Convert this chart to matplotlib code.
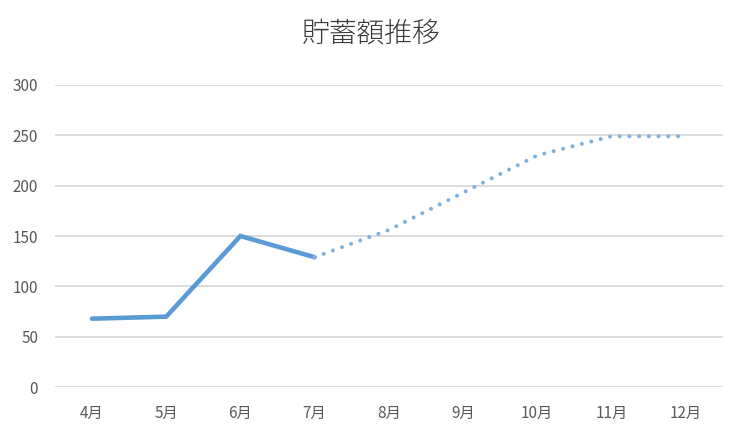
import matplotlib
matplotlib.use("Agg")
import matplotlib.pyplot as plt

plt.rcParams['font.family'] = ['Noto Sans CJK JP', 'DejaVu Sans']

months = ["4月", "5月", "6月", "7月", "8月", "9月", "10月", "11月", "12月"]
actual = [68, 70, 150, 129]
forecast = [129, 156, 193, 230, 249, 249]

fig = plt.figure(figsize=(7.42, 4.42), dpi=100)
ax = fig.add_axes([0.074, 0.124, 0.9, 0.684])

x_all = list(range(len(months)))
ax.plot(x_all[:len(actual)], actual, color="#5B9BD5", lw=3.3,
        solid_capstyle="round", solid_joinstyle="miter", zorder=3)
start = len(actual) - 1
ax.plot(x_all[start:start + len(forecast)], forecast, color="#7EB0E0", lw=2.9,
        linestyle=(0, (0.01, 2.4)), dash_capstyle="round", zorder=3)

ax.set_xlim(-0.5, len(months) - 0.5)
ax.set_ylim(0, 300)
ax.set_yticks(range(0, 301, 50))
ax.set_xticks(x_all)
ax.set_xticklabels(months)
ax.grid(axis="y", color="#D9D9D9", lw=1.3)
ax.set_axisbelow(True)
for s in ax.spines.values():
    s.set_visible(False)
ax.tick_params(axis="both", length=0, labelsize=11, labelcolor="#595959")
ax.tick_params(axis="y", pad=12)
ax.tick_params(axis="x", pad=13)
for lbl in ax.get_yticklabels():
    lbl.set_horizontalalignment("right")

fig.text(0.5, 0.925, "貯蓄額推移", ha="center", va="center",
         fontsize=20, color="#3A3A3A", fontweight="light")

fig.savefig("out.png", dpi=100, facecolor="white")
